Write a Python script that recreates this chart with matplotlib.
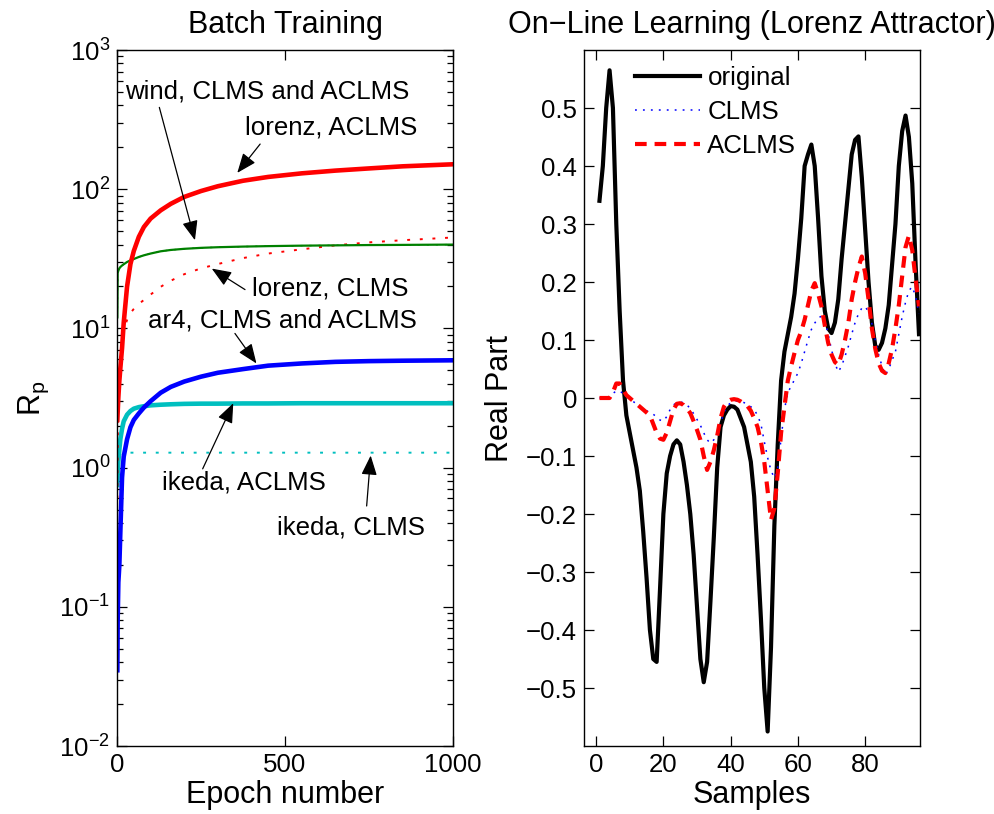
import matplotlib
matplotlib.use("Agg")
import matplotlib.pyplot as plt
from matplotlib.ticker import FuncFormatter, LogLocator, NullFormatter

plt.rcParams['font.family'] = ['Liberation Sans', 'DejaVu Sans']
plt.rcParams['mathtext.fontset'] = 'custom'
plt.rcParams['mathtext.rm'] = 'Liberation Sans'
plt.rcParams['mathtext.it'] = 'Liberation Sans:italic'
plt.rcParams['axes.unicode_minus'] = True

# --- Batch training (left panel) ---
epochs = [1, 2, 4, 7, 10, 15, 20, 30, 40, 50, 65, 80, 100, 130, 160, 200,
          250, 300, 375, 450, 550, 650, 750, 850, 1000]
lorenz_aclms = [2.2, 2.5, 3.2, 4.2, 5.2, 7.2, 11, 20, 29, 36, 45.5, 53.5, 61.5, 70.5,
                78.5, 88, 97, 105, 115, 122.5, 130, 136, 141, 146, 151]
lorenz_clms = [0.6, 1.5, 3.0, 5.0, 6.5, 8.3, 9.8, 11.5, 12.9, 13.8, 15, 16, 17.5,
               19.9, 22, 24.5, 27, 29, 32, 34.5, 37, 39.5, 41.5, 43, 45]
wind = [12, 25, 26, 27, 27.6, 28.3, 28.9, 30, 30.8, 31.5, 32.6, 33.5, 34.5, 35.8,
        36.6, 37.3, 37.9, 38.3, 38.7, 39, 39.3, 39.5, 39.7, 39.8, 40]
ar4 = [0.035, 0.08, 0.15, 0.2, 0.35, 0.85, 1.2, 1.6, 1.95, 2.2, 2.45, 2.7, 3.0,
       3.45, 3.8, 4.15, 4.5, 4.8, 5.1, 5.4, 5.6, 5.75, 5.82, 5.86, 5.9]
ikeda_aclms = [0.75, 0.9, 1.1, 1.35, 1.6, 1.9, 2.15, 2.4, 2.55, 2.65, 2.72, 2.76,
               2.8, 2.83, 2.85, 2.87, 2.88, 2.88, 2.89, 2.89, 2.9, 2.9, 2.9, 2.9, 2.9]
ikeda_clms = [0.8, 1.0, 1.15, 1.22, 1.25, 1.27, 1.28, 1.28, 1.28, 1.28, 1.28, 1.28,
              1.28, 1.28, 1.28, 1.28, 1.28, 1.28, 1.28, 1.28, 1.28, 1.28, 1.28, 1.28, 1.28]

# label text, text anchor (left, centre), arrow tail, arrow tip
notes = [
    ("wind, CLMS and ACLMS", (24, 500), (126, 387), (232, 43)),
    ("lorenz, ACLMS", (381, 279), (426, 211), (358, 131)),
    ("lorenz, CLMS", (401, 19.3), (381, 19), (282, 26.9)),
    ("ar4, CLMS and ACLMS", (91, 11.4), (351, 9.2), (415, 5.6)),
    ("ikeda, ACLMS", (135, 0.78), (255, 0.98), (346, 2.9)),
    ("ikeda, CLMS", (475, 0.372), (743, 0.53), (755, 1.22)),
]

# --- On-line learning (right panel) ---
samples = list(range(1, 97))
original = [0.34, 0.40, 0.50, 0.565, 0.50, 0.30, 0.15, 0.03, -0.03, -0.06,
            -0.09, -0.12, -0.16, -0.23, -0.31, -0.40, -0.45, -0.455, -0.33, -0.20,
            -0.13, -0.10, -0.08, -0.073, -0.08, -0.11, -0.15, -0.20, -0.27, -0.36,
            -0.45, -0.49, -0.455, -0.35, -0.24, -0.12, -0.05, -0.03, -0.02, -0.014,
            -0.015, -0.02, -0.035, -0.05, -0.08, -0.11, -0.17, -0.27, -0.38, -0.50,
            -0.575, -0.43, -0.22, -0.08, 0.03, 0.08, 0.11, 0.14, 0.18, 0.24,
            0.31, 0.40, 0.42, 0.437, 0.40, 0.31, 0.21, 0.15, 0.12, 0.112,
            0.13, 0.17, 0.24, 0.30, 0.36, 0.42, 0.445, 0.451, 0.38, 0.29,
            0.20, 0.13, 0.09, 0.083, 0.095, 0.12, 0.16, 0.23, 0.30, 0.40,
            0.46, 0.487, 0.45, 0.37, 0.23, 0.11]
clms = [0, 0, 0, 0.003, 0.008, 0.012, 0.012, 0.008, 0.003, -0.002,
        -0.006, -0.01, -0.014, -0.018, -0.022, -0.025, -0.028, -0.033, -0.038, -0.04,
        -0.032, -0.02, -0.012, -0.008, -0.007, -0.008, -0.012, -0.018, -0.027, -0.037,
        -0.047, -0.06, -0.072, -0.078, -0.072, -0.062, -0.045, -0.025, -0.014, -0.008,
        -0.006, -0.005, -0.006, -0.008, -0.011, -0.015, -0.02, -0.03, -0.045, -0.075,
        -0.103, -0.125, -0.138, -0.12, -0.07, -0.02, 0.01, 0.02, 0.032, 0.043,
        0.06, 0.08, 0.10, 0.118, 0.129, 0.138, 0.141, 0.135, 0.11, 0.083,
        0.06, 0.045, 0.055, 0.072, 0.089, 0.11, 0.13, 0.145, 0.155, 0.158,
        0.148, 0.128, 0.10, 0.075, 0.055, 0.04, 0.05, 0.065, 0.08, 0.11,
        0.14, 0.165, 0.185, 0.192, 0.175, 0.145]
aclms = [0, 0, 0, 0, 0.01, 0.025, 0.025, 0.015, 0.005, 0,
         -0.005, -0.01, -0.015, -0.02, -0.025, -0.03, -0.045, -0.06, -0.07, -0.072,
         -0.06, -0.04, -0.02, -0.01, -0.009, -0.012, -0.018, -0.026, -0.04, -0.055,
         -0.072, -0.10, -0.124, -0.11, -0.09, -0.065, -0.035, -0.015, -0.006, -0.003,
         -0.002, -0.003, -0.006, -0.01, -0.014, -0.022, -0.035, -0.05, -0.075, -0.11,
         -0.16, -0.21, -0.19, -0.13, -0.06, -0.015, 0.03, 0.055, 0.078, 0.10,
         0.115, 0.135, 0.16, 0.185, 0.198, 0.18, 0.158, 0.125, 0.095, 0.075,
         0.062, 0.057, 0.075, 0.10, 0.13, 0.17, 0.20, 0.225, 0.244, 0.215,
         0.17, 0.12, 0.085, 0.06, 0.047, 0.043, 0.06, 0.085, 0.12, 0.16,
         0.21, 0.26, 0.28, 0.255, 0.205, 0.158]
legend_labels = ["original", "CLMS", "ACLMS"]
right_yticks = [-0.5, -0.4, -0.3, -0.2, -0.1, 0, 0.1, 0.2, 0.3, 0.4, 0.5]
right_xticks = [0, 20, 40, 60, 80]

W, H = 994, 814
fig = plt.figure(figsize=(W / 100, H / 100), dpi=100)
ax1 = fig.add_axes([117 / W, 1 - 746 / H, 336 / W, 696 / H])
ax2 = fig.add_axes([584 / W, 1 - 746 / H, 336 / W, 696 / H])

cyan = '#00bfbf'
ax1.plot(epochs, ikeda_clms, color=cyan, lw=1.4, dashes=(1.5, 5))
ax1.plot(epochs, ikeda_aclms, color=cyan, lw=3.3)
ax1.plot(epochs, ar4, color='#0000ff', lw=3.3)
ax1.plot(epochs, lorenz_clms, color='#ff0000', lw=1.4, dashes=(1.5, 5))
ax1.plot(epochs, wind, color='#008000', lw=1.6)
ax1.plot(epochs, wind, color='#008000', lw=1.0, dashes=(1.5, 5))
ax1.plot(epochs, lorenz_aclms, color='#ff0000', lw=3.3)

for label, pos, tail, tip in notes:
    ax1.text(pos[0], pos[1], label, fontsize=18.6, ha='left', va='center')
    ax1.annotate('', xy=tip, xytext=tail,
                 arrowprops=dict(arrowstyle='-|>,head_length=0.6,head_width=0.24',
                                 color='k', lw=0.9, shrinkA=0, shrinkB=0,
                                 mutation_scale=20))

ax1.set_yscale('log')
ax1.set_xlim(0, 1000)
ax1.set_ylim(1e-2, 1e3)
ax1.set_xticks([0, 500, 1000])
ax1.yaxis.set_minor_locator(LogLocator(base=10, subs=range(2, 10), numticks=20))
ax1.yaxis.set_minor_formatter(NullFormatter())
ax1.set_title("Batch Training", fontsize=22, pad=12)
ax1.set_xlabel("Epoch number", fontsize=22, labelpad=2)
ax1.set_ylabel(r"$\mathregular{R_p}$", fontsize=22, labelpad=6)

ax2.plot(samples, original, color='k', lw=3.0)
ax2.plot(samples, clms, color='#0000ff', lw=1.1, dashes=(1.2, 4))
ax2.plot(samples, aclms, color='#ff0000', lw=3.0, dashes=(2.8, 1.9))
ax2.legend(legend_labels, loc='upper left', bbox_to_anchor=(0.152, 0.977),
           frameon=False, fontsize=18.6, handlelength=2.5, handletextpad=0.3,
           labelspacing=0.38, borderpad=0, borderaxespad=0)
ax2.set_xlim(-3.6, 96.3)
ax2.set_ylim(-0.6, 0.6)
ax2.set_xticks(right_xticks)
ax2.set_yticks(right_yticks)
ax2.yaxis.set_major_formatter(FuncFormatter(
    lambda v, p: ('%g' % round(v, 1)).replace('-', '\u2212')))
ax2.set_title("On\u2212Line Learning (Lorenz Attractor)", fontsize=22, pad=12)
ax2.set_xlabel("Samples", fontsize=22, labelpad=2)
ax2.set_ylabel("Real Part", fontsize=22, labelpad=8)

for ax in (ax1, ax2):
    ax.tick_params(which='both', direction='in', top=True, right=True,
                   labelsize=18.6, pad=5, width=0.9)
    ax.tick_params(which='major', length=7)
    ax.tick_params(which='minor', length=4)
    for s in ax.spines.values():
        s.set_linewidth(1.0)

fig.savefig("out.png", dpi=100)
